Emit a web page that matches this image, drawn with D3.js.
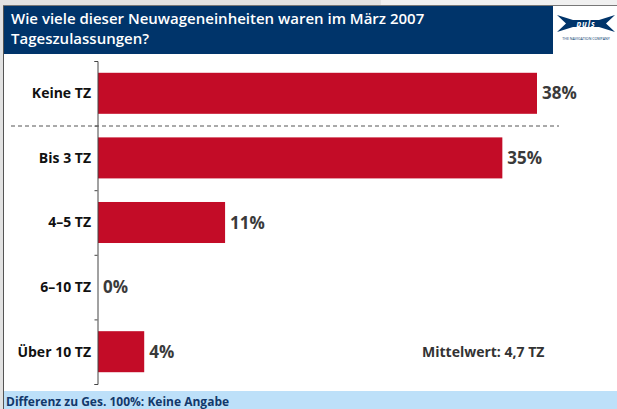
<!DOCTYPE html>
<html><head><meta charset="utf-8">
<script src="https://cdn.jsdelivr.net/npm/d3@7"></script>
<style>
html,body{margin:0;padding:0;background:#fff;}
svg{display:block;font-family:"Open Sans",sans-serif;}
</style></head>
<body>
<script>
const titleLines = ["Wie viele dieser Neuwageneinheiten waren im März 2007", "Tageszulassungen?"];
const categories = ["Keine TZ", "Bis 3 TZ", "4–5 TZ", "6–10 TZ", "Über 10 TZ"];
const values = [38, 35, 11, 0, 4];
const valueLabels = ["38%", "35%", "11%", "0%", "4%"];
const meanNote = "Mittelwert: 4,7 TZ";
const footNote = "Differenz zu Ges. 100%: Keine Angabe";
const logoText = "puls";
const logoSub = "THE NAVIGATION COMPANY";

const W = 617, H = 409;
const svg = d3.select("body").append("svg").attr("width", W).attr("height", H);

// top strip & frame
svg.append("rect").attr("x",0).attr("y",0).attr("width",W).attr("height",6).attr("fill","#f0f0f0");
svg.append("rect").attr("x",0).attr("y",0).attr("width",381).attr("height",6).attr("fill","#e2e2e2");
svg.append("rect").attr("x",0).attr("y",6).attr("width",3).attr("height",H).attr("fill","#e2e2e2");
svg.append("line").attr("x1",3.5).attr("x2",3.5).attr("y1",5).attr("y2",H).attr("stroke","#555").attr("stroke-width",1);
svg.append("line").attr("x1",3).attr("x2",W).attr("y1",5.5).attr("y2",5.5).attr("stroke","#777").attr("stroke-width",1);

// header
svg.append("rect").attr("x",4).attr("y",6).attr("width",549).attr("height",48).attr("fill","#00346a");
svg.selectAll("text.title").data(titleLines).join("text")
  .attr("class","title").attr("x",11).attr("y",(d,i)=>24+i*20)
  .attr("fill","#fff").attr("font-size",15).attr("font-weight",600).text(d=>d);

// logo
const logo = svg.append("g");
logo.append("polygon")
  .attr("points","557,15 573,20 599,20 615,15 606,23.5 615,32 599,27 573,27 557,32 566,23.5")
  .attr("fill","#00346a");
logo.append("text").attr("x",586).attr("y",26.5).attr("text-anchor","middle")
  .attr("fill","#fff").attr("font-size",8).attr("font-weight",700).attr("font-style","italic")
  .attr("letter-spacing",0.8).text(logoText);
logo.append("text").attr("x",586).attr("y",40).attr("text-anchor","middle")
  .attr("fill","#00346a").attr("font-size",3.6).text(logoSub);

// scales
const x = d3.scaleLinear().domain([0, 38]).range([98, 537]);
const y = d3.scaleBand().domain(categories).range([61, 384]).paddingInner(0.365).paddingOuter(0.1825);
const yb = d3.scaleLinear().domain([0, categories.length]).range([61, 384]);

// bars
svg.selectAll("rect.bar").data(values).join("rect").attr("class","bar")
  .attr("x", x(0)).attr("y",(d,i)=>y(categories[i]))
  .attr("width", d=>x(d)-x(0)).attr("height", y.bandwidth())
  .attr("fill","#c30c27");

// axis
const ax = svg.append("g").attr("transform","translate(97.5,0)")
  .call(d3.axisLeft(yb).tickValues(d3.range(categories.length+1)).tickSize(3).tickFormat(""));
ax.selectAll("path,line").attr("stroke","#444");

// dashed separator
svg.append("line").attr("x1",11).attr("x2",559).attr("y1",126).attr("y2",126)
  .attr("stroke","#555").attr("stroke-dasharray","4,3").attr("stroke-width",1);

// category labels
svg.selectAll("text.cat").data(categories).join("text").attr("class","cat")
  .attr("x",91).attr("y",d=>y(d)+y.bandwidth()/2).attr("dy","0.35em")
  .attr("text-anchor","end").attr("font-size",14).attr("font-weight",700).attr("fill","#111")
  .text(d=>d);

// value labels
svg.selectAll("text.val").data(values).join("text").attr("class","val")
  .attr("x",d=>x(d)+5).attr("y",(d,i)=>y(categories[i])+y.bandwidth()/2).attr("dy","0.36em")
  .attr("font-size",17).attr("font-weight",700).attr("fill","#3a3a3a")
  .text((d,i)=>valueLabels[i]);

// mean
svg.append("text").attr("x",422).attr("y",357).attr("font-size",14).attr("font-weight",700)
  .attr("fill","#333").text(meanNote);

// footer
svg.append("rect").attr("x",4).attr("y",391).attr("width",W-4).attr("height",H-391).attr("fill","#bde0f9");
svg.append("text").attr("x",6).attr("y",405.5).attr("font-size",12).attr("font-weight",700)
  .attr("fill","#12386b").text(footNote);
</script>
</body></html>
